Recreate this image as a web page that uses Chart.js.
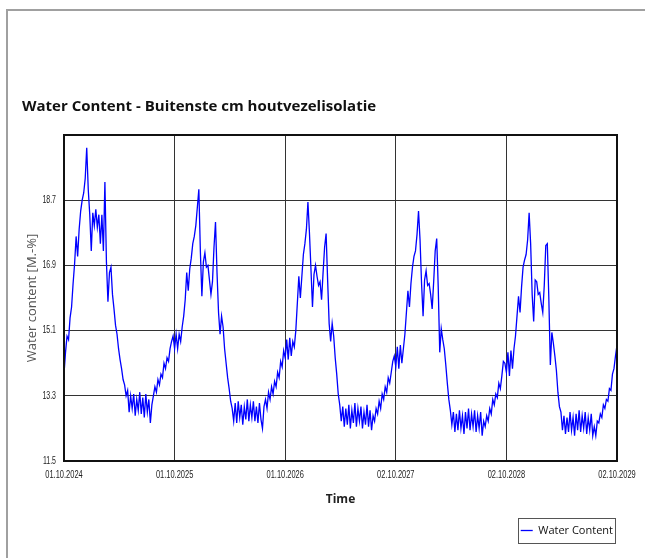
<!DOCTYPE html>
<html>
<head>
<meta charset="utf-8">
<script src="https://cdn.jsdelivr.net/npm/chart.js@4.4.1/dist/chart.umd.min.js"></script>
<style>
  html, body { margin: 0; padding: 0; background: #fff; }
  #wrap { width: 645px; height: 558px; }
</style>
</head>
<body>
<div id="wrap"><canvas id="chart" width="645" height="558"></canvas></div>
<script>
// tick labels
const xTickLabels = ['01.10.2024', '01.10.2025', '01.10.2026', '02.10.2027', '02.10.2028', '02.10.2029'];
const yTicks = [11.5, 13.3, 15.1, 16.9, 18.7, 20.5];

// water content [M.-%], ~5 day steps, one array per year (Oct -> Oct)
const year1 = [13.9, 14.5, 14.95, 14.85, 15.45, 15.75, 16.4, 16.95, 17.7, 17.15, 17.9, 18.4, 18.7, 18.9, 19.3, 20.15, 19.0, 18.3, 17.3, 18.35,
  18.0, 18.45, 17.95, 18.3, 17.5, 18.3, 17.3, 19.2, 17.0, 15.9, 16.7, 16.85, 16.1, 15.7, 15.25, 15.0, 14.6, 14.3, 14.05, 13.75,
  13.6, 13.3, 13.45, 12.85, 13.3, 12.95, 13.35, 12.75, 13.2, 12.9, 13.4, 12.8, 13.25, 12.7, 13.35, 12.85, 13.2, 12.55, 13.05, 13.3,
  13.55, 13.4, 13.75, 13.6, 13.9, 13.8, 14.2, 14.05, 14.35, 14.25, 14.6, 14.8, 14.95];
const year2 = [14.6, 15.0, 14.6, 15.0, 14.8, 15.2, 15.5, 15.95, 16.7, 16.2, 16.8, 17.1, 17.5, 17.7, 18.0, 18.5, 19.0, 17.3, 16.05, 17.0,
  17.25, 16.85, 16.9, 16.5, 16.1, 16.45, 17.4, 18.1, 16.7, 15.6, 15.0, 15.5, 15.2, 14.6, 14.2, 13.8, 13.5, 13.15, 12.95, 12.6,
  13.1, 12.55, 13.15, 12.7, 13.05, 12.5, 13.0, 12.65, 13.2, 12.6, 13.05, 12.7, 13.15, 12.6, 13.0, 12.55, 13.1, 12.65, 12.4, 13.0,
  13.2, 12.95, 13.4, 13.2, 13.55, 13.35, 13.7, 13.55, 13.95, 13.8, 14.25, 14.1, 14.55];
const year3 = [14.35, 14.85, 14.3, 14.9, 14.4, 14.8, 14.65, 15.1, 15.85, 16.6, 16.0, 16.6, 17.2, 17.5, 17.9, 18.65, 17.8, 16.8, 15.75, 16.65,
  16.9, 16.6, 16.35, 16.45, 15.95, 16.7, 17.4, 17.78, 16.5, 15.3, 14.8, 15.3, 14.95, 14.35, 13.9, 13.35, 13.05, 12.6, 13.0, 12.45,
  12.95, 12.5, 13.05, 12.4, 12.9, 12.55, 13.1, 12.45, 12.95, 12.6, 13.0, 12.4, 12.85, 12.5, 13.05, 12.45, 12.9, 12.35, 12.75, 12.6,
  12.95, 12.8, 13.15, 12.95, 13.35, 13.2, 13.55, 13.4, 13.8, 13.65, 13.95, 14.25, 14.4];
const year4 = [14.1, 14.65, 14.05, 14.7, 14.2, 14.6, 15.0, 15.6, 16.2, 15.75, 16.4, 16.85, 17.15, 17.3, 17.75, 18.4, 17.6, 16.4, 15.5, 16.5,
  16.75, 16.35, 16.4, 16.1, 15.7, 16.45, 17.3, 17.64, 16.3, 14.5, 15.15, 14.85, 14.6, 14.15, 13.65, 13.2, 12.9, 12.5, 12.85, 12.3,
  12.8, 12.35, 12.9, 12.4, 12.75, 12.25, 12.85, 12.4, 12.95, 12.35, 12.8, 12.45, 12.9, 12.3, 12.75, 12.4, 12.85, 12.2, 12.6, 12.45,
  12.75, 12.6, 12.95, 12.8, 13.2, 13.05, 13.35, 13.25, 13.65, 13.5, 13.85, 14.25, 14.2];
const year5 = [13.95, 14.5, 13.85, 14.55, 14.05, 14.6, 14.95, 15.5, 16.05, 15.6, 16.3, 16.85, 17.05, 17.2, 17.6, 18.35, 17.5, 16.1, 15.35, 16.5,
  16.45, 16.1, 16.15, 15.85, 15.6, 16.35, 17.45, 17.5, 16.0, 14.15, 15.05, 14.75, 14.4, 14.0, 13.4, 13.0, 12.85, 12.35, 12.75, 12.25,
  12.7, 12.3, 12.85, 12.35, 12.7, 12.2, 12.8, 12.35, 12.9, 12.3, 12.75, 12.4, 12.85, 12.25, 12.7, 12.35, 12.8, 12.2, 12.45, 12.2,
  12.6, 12.55, 12.8, 12.7, 13.05, 12.95, 13.2, 13.15, 13.5, 13.45, 13.9, 14.05, 14.4];
const endValue = 14.7; // last reading at 02.10.2029

const years = [year1, year2, year3, year4, year5];

// x is measured in years since 01.10.2024
const points = [];
years.forEach((vals, y) => {
  vals.forEach((v, k) => points.push({ x: y + k / vals.length, y: v }));
});
points.push({ x: years.length, y: endValue });

const textFont = "'Open Sans', 'Noto Sans', sans-serif";
const tickFont = "'Liberation Sans', sans-serif";

// grey page frame, plot frame, narrow tick labels and a box round the legend
const framePlugin = {
  id: 'frame',
  beforeDraw(chart) {
    const ctx = chart.ctx;
    ctx.save();
    ctx.fillStyle = '#fff';
    ctx.fillRect(0, 0, chart.width, chart.height);
    ctx.strokeStyle = '#a0a0a0';
    ctx.lineWidth = 2;
    ctx.beginPath();
    ctx.moveTo(7, chart.height);
    ctx.lineTo(7, 10);
    ctx.lineTo(chart.width, 10);
    ctx.stroke();
    ctx.restore();
  },
  afterDraw(chart) {
    const ctx = chart.ctx;
    const a = chart.chartArea;
    const xs = chart.scales.x;
    const ys = chart.scales.y;
    ctx.save();
    ctx.strokeStyle = '#111';
    ctx.lineWidth = 2;
    ctx.strokeRect(a.left, a.top, a.right - a.left, a.bottom - a.top);

    // the original uses a condensed face, so squeeze the labels sideways
    ctx.fillStyle = '#222';
    ctx.textBaseline = 'middle';
    ctx.textAlign = 'center';
    ctx.font = '11px ' + tickFont;
    xs.ticks.forEach((t, i) => {
      ctx.save();
      ctx.translate(xs.getPixelForTick(i), xs.top + 14);
      ctx.scale(0.68, 1);
      ctx.fillText(t.label ?? xTickLabels[i], 0, 0);
      ctx.restore();
    });
    ctx.textAlign = 'right';
    ctx.font = '10px ' + tickFont;
    ys.ticks.forEach((t, i) => {
      ctx.save();
      ctx.translate(ys.right - 8, ys.getPixelForTick(i));
      ctx.scale(0.7, 1);
      ctx.fillText(t.label ?? '', 0, 0);
      ctx.restore();
    });

    const hb = chart.legend.legendHitBoxes[0];
    if (hb) {
      ctx.strokeStyle = '#555';
      ctx.lineWidth = 1;
      ctx.strokeRect(Math.round(hb.left) - 2.5, Math.round(hb.top) - 6.5, Math.round(hb.width) + 5, Math.round(hb.height) + 14);
    }
    ctx.restore();
  }
};

new Chart(document.getElementById('chart'), {
  type: 'line',
  data: {
    datasets: [{
      label: 'Water Content',
      data: points,
      borderColor: '#0000ff',
      backgroundColor: '#0000ff',
      borderWidth: 1.3,
      pointRadius: 0,
      tension: 0,
      fill: false
    }]
  },
  options: {
    responsive: false,
    animation: false,
    devicePixelRatio: 1,
    layout: { padding: { left: 22, right: 28, top: 0, bottom: 12 } },
    scales: {
      x: {
        type: 'linear',
        min: 0,
        max: 5,
        afterBuildTicks: (s) => { s.ticks = xTickLabels.map((_, i) => ({ value: i })); },
        afterFit: (s) => { s.height = 60; s.paddingLeft = 0; s.paddingRight = 0; },
        ticks: {
          display: false,
          callback: (v, i) => xTickLabels[i],
          autoSkip: false,
          maxRotation: 0
        },
        grid: { color: '#333', lineWidth: 1, drawTicks: false },
        border: { display: true, color: '#111', width: 2 },
        title: {
          display: true,
          text: 'Time',
          color: '#222',
          font: { family: textFont, size: 12, weight: 'bold' },
          padding: { top: 0, bottom: 14 }
        }
      },
      y: {
        min: 11.5,
        max: 20.5,
        afterBuildTicks: (s) => { s.ticks = yTicks.map((v) => ({ value: v })); },
        afterFit: (s) => { s.width = 42; s.paddingTop = 0; s.paddingBottom = 0; },
        ticks: {
          display: false,
          callback: (v, i) => (i === yTicks.length - 1 ? '' : yTicks[i].toFixed(1))
        },
        grid: { color: '#333', lineWidth: 1, drawTicks: false },
        border: { display: true, color: '#111', width: 2 },
        title: {
          display: true,
          text: 'Water content [M.-%]',
          color: '#555',
          font: { family: textFont, size: 13 },
          padding: { top: 2, bottom: 0 }
        }
      }
    },
    plugins: {
      title: {
        display: true,
        text: 'Water Content - Buitenste cm houtvezelisolatie',
        align: 'start',
        color: '#111',
        font: { family: textFont, size: 15, weight: 'bold' },
        padding: { top: 98, bottom: 19 }
      },
      legend: {
        position: 'bottom',
        align: 'end',
        labels: {
          usePointStyle: true,
          pointStyle: 'line',
          pointStyleWidth: 12,
          padding: 4,
          color: '#111',
          font: { family: textFont, size: 11 }
        }
      },
      tooltip: { enabled: false }
    }
  },
  plugins: [framePlugin]
});
</script>
</body>
</html>
